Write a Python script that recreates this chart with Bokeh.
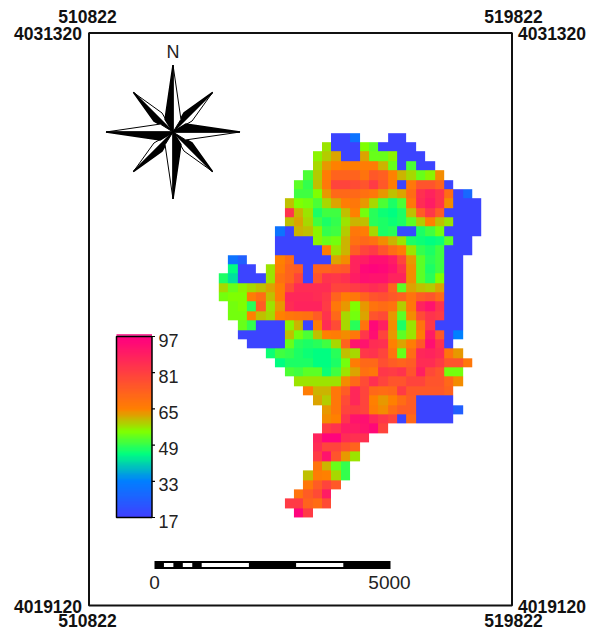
import math
import numpy as np
from bokeh.core.properties import value
from bokeh.embed import file_html
from bokeh.models import LinearColorMapper
from bokeh.plotting import figure
from bokeh.resources import INLINE

X_MIN, X_MAX = 510822, 519822
Y_MIN, Y_MAX = 4019120, 4031320
CELL = 199.4

row_start = [12, 11, 10, 10, 9, 8, 8, 7, 7, 7, 6, 6, 6, 1, 1, 0, 0, 0, 1, 1, 2, 2, 3, 5, 6, 7, 8, 9, 10, 11, 11,
             11, 10, 10, 10, 10, 9, 9, 8, 7, 8]
row_values = [
    [18, 18, 30, 0, 0, 0, 18, 18],
    [57, 18, 18, 18, 55, 52, 18, 18, 18, 18],
    [56, 59, 62, 18, 18, 62, 53, 53, 56, 18, 18, 18],
    [58, 63, 65, 66, 66, 66, 66, 61, 53, 18, 51, 18, 18],
    [51, 59, 66, 72, 72, 72, 68, 75, 73, 65, 61, 58, 53, 56, 64],
    [52, 49, 60, 67, 80, 80, 78, 76, 82, 75, 66, 18, 67, 76, 76, 72, 18],
    [50, 50, 55, 63, 71, 71, 71, 69, 67, 63, 60, 62, 70, 85, 88, 84, 70, 18, 27],
    [60, 55, 54, 51, 58, 62, 66, 67, 63, 58, 51, 47, 51, 67, 86, 90, 84, 64, 18, 18, 18],
    [84, 61, 57, 47, 50, 50, 60, 65, 54, 48, 46, 45, 47, 60, 74, 83, 74, 18, 18, 18, 18],
    [60, 62, 58, 50, 47, 49, 57, 61, 60, 48, 47, 46, 47, 52, 59, 65, 60, 57, 18, 18, 18],
    [30, 18, 61, 60, 56, 49, 50, 59, 67, 66, 58, 47, 48, 20, 20, 47, 50, 54, 18, 18, 18, 18],
    [18, 18, 18, 18, 56, 53, 54, 61, 69, 71, 69, 64, 61, 57, 47, 46, 45, 46, 52, 18, 18],
    [18, 18, 18, 18, 18, 66, 57, 61, 74, 80, 82, 76, 70, 66, 57, 49, 47, 50, 18, 18, 18],
    [30, 25, 0, 0, 0, 65, 70, 18, 18, 18, 18, 62, 64, 88, 90, 93, 93, 90, 80, 63, 52, 48, 50, 18, 18],
    [45, 18, 18, 0, 57, 66, 72, 74, 18, 72, 72, 74, 75, 88, 95, 96, 95, 92, 85, 64, 52, 47, 50, 18, 18],
    [47, 42, 18, 18, 18, 57, 69, 72, 80, 18, 76, 84, 83, 85, 90, 93, 92, 92, 88, 88, 64, 52, 48, 55, 18, 18],
    [58, 53, 56, 58, 60, 62, 66, 78, 86, 86, 86, 86, 80, 80, 82, 84, 86, 84, 72, 52, 62, 60, 59, 62, 18, 18],
    [54, 55, 55, 66, 70, 60, 66, 87, 87, 87, 86, 83, 72, 66, 67, 72, 76, 77, 75, 73, 68, 74, 76, 71, 18, 18],
    [54, 55, 48, 74, 57, 63, 86, 88, 88, 88, 82, 67, 63, 55, 63, 68, 70, 68, 59, 67, 88, 92, 84, 18, 18],
    [54, 54, 65, 60, 58, 65, 67, 68, 69, 74, 84, 71, 58, 54, 62, 76, 78, 63, 52, 64, 78, 84, 82, 18, 18],
    [53, 49, 18, 18, 18, 56, 61, 18, 66, 86, 78, 58, 48, 68, 95, 89, 64, 47, 57, 68, 83, 18, 18, 18],
    [18, 18, 18, 18, 18, 60, 54, 51, 60, 65, 66, 64, 67, 83, 93, 80, 63, 52, 57, 66, 90, 75, 18, 33],
    [18, 18, 18, 18, 53, 48, 47, 48, 50, 58, 72, 92, 92, 86, 85, 65, 62, 66, 75, 93, 84, 18],
    [46, 50, 49, 47, 46, 45, 45, 48, 60, 58, 83, 84, 80, 68, 53, 70, 87, 88, 86, 68, 63],
    [45, 47, 47, 47, 45, 45, 47, 54, 66, 71, 71, 77, 74, 72, 74, 86, 86, 82, 76, 76, 67],
    [51, 50, 52, 52, 46, 50, 57, 62, 69, 67, 83, 82, 84, 76, 89, 79, 76, 54, 54],
    [57, 57, 57, 57, 57, 64, 71, 78, 85, 80, 76, 76, 80, 80, 76, 76, 71, 64],
    [66, 61, 61, 67, 74, 87, 80, 71, 70, 71, 82, 75, 75, 75, 75, 72],
    [62, 59, 67, 78, 87, 80, 65, 63, 65, 70, 74, 18, 18, 18, 18],
    [63, 67, 80, 82, 80, 66, 64, 70, 74, 74, 18, 18, 18, 18, 25],
    [64, 65, 84, 92, 93, 87, 83, 80, 18, 71, 18, 18, 18, 18],
    [82, 84, 90, 90, 92, 95, 80],
    [88, 96, 96, 86, 85, 85],
    [86, 80, 80, 76, 72],
    [82, 92, 76, 63, 57],
    [68, 61, 53, 49],
    [60, 66, 65, 58, 49],
    [67, 74, 80, 75],
    [68, 74, 78, 90],
    [82, 82, 72, 70, 78],
    [96, 82],
]
legend_ticks = [97, 81, 65, 49, 33, 17]
scale_white = [(200, 400), (600, 800), (1000, 2000), (3000, 4000)]
coord_top = "510822"
coord_right = "519822"
coord_upper = "4031320"
coord_lower = "4019120"

# Colour ramp of the map (value, rgb)
stops = [(17, (64, 64, 255)), (33, (0, 128, 255)), (45, (0, 255, 128)),
         (55, (128, 255, 0)), (65, (255, 128, 0)), (97, (255, 0, 128))]
vs = np.linspace(17, 97, 256)
palette = []
for v in vs:
    rgb = [int(round(np.interp(v, [s[0] for s in stops], [s[1][i] for s in stops]))) for i in range(3)]
    palette.append("#%02x%02x%02x" % tuple(rgb))
mapper = LinearColorMapper(palette=palette, low=17, high=97, nan_color=(0, 0, 0, 0))

W, H = 596, 630
FL, FT, FB = 88.5, 32.5, 605.0       # frame pixels
SX = 47.0 / 1000                     # px per metre, x
SY = (FB - FT) / (Y_MAX - Y_MIN)     # px per metre, y
x_start = X_MIN - FL / SX
x_end = x_start + W / SX
y_end = Y_MAX + FT / SY
y_start = y_end - H / SY


def dx(px):
    return x_start + px / SX


def dy(py):
    return y_end - py / SY


p = figure(width=W, height=H, x_range=(x_start, x_end), y_range=(y_start, y_end),
           output_backend="svg", toolbar_location=None, min_border=0,
           x_axis_location=None, y_axis_location=None, outline_line_color=None,
           background_fill_color="white", border_fill_color="white")
p.grid.visible = False

# Raster
n_rows, n_cols = len(row_values), 28
grid = np.full((n_rows, n_cols), np.nan)
for r, (start, row) in enumerate(zip(row_start, row_values)):
    for c, val in enumerate(row):
        if val:
            grid[r, start + c] = val
gx0, gy0 = dx(218.3), dy(132.7)
cell_h = CELL * SX / SY
p.image(image=[grid[::-1]], x=gx0, y=gy0 - n_rows * cell_h, dw=n_cols * CELL, dh=n_rows * cell_h,
        color_mapper=mapper)

# Frame
p.quad(left=[X_MIN], right=[X_MAX], bottom=[Y_MIN], top=[Y_MAX], fill_color=None,
       line_color="#111111", line_width=2)

# Colour legend
leg_top, leg_bottom = 336.0, 517.0


def leg_y(v):
    return dy(leg_top + (97 - v) * (leg_bottom - leg_top) / 80)


lv = np.arange(17, 97.5, 0.5)
p.image(image=[lv.reshape(-1, 1)], x=dx(116), y=leg_y(17), dw=dx(151.5) - dx(116), dh=leg_y(97) - leg_y(17),
        color_mapper=mapper)
p.line([dx(116), dx(151.5)], [dy(334.6)] * 2, line_color="#ff0080", line_width=1.5)
p.quad(left=[dx(116)], right=[dx(151.5)], bottom=[leg_y(17)], top=[leg_y(97)], fill_color=None,
       line_color="black", line_width=1.5)
p.segment(x0=dx(151.5), x1=dx(154.5), y0=[leg_y(v) for v in legend_ticks],
          y1=[leg_y(v) for v in legend_ticks], line_color="black", line_width=1.2)
p.text(x=[dx(158)] * len(legend_ticks), y=[dy(leg_top + (97 - v) * (leg_bottom - leg_top) / 80 + 3.5) for v in legend_ticks],
       text=[str(v) for v in legend_ticks], text_font=value("Liberation Sans"), text_font_size="18px",
       text_baseline="middle", text_align="left", text_color="#222222")

# Coordinates
bold = dict(text_font=value("Liberation Sans"), text_font_style="bold", text_font_size="17.5px",
            text_baseline="middle", text_align="center", text_color="#111111")
p.text(x=[dx(87), dx(513), dx(87), dx(513)],
       y=[dy(15.5), dy(15.5), dy(620), dy(620)],
       text=[coord_top, coord_right, coord_top, coord_right], **bold)
p.text(x=[dx(47.5), dx(551.5), dx(47.5), dx(551.5)],
       y=[dy(33), dy(33), dy(606), dy(606)],
       text=[coord_upper, coord_upper, coord_lower, coord_lower], **bold)

# Compass
cx, cy = 172.5, 131.5


def kite(angle, tip, side_angle, side_r):
    """half point: centre, tip, shoulder; angle is clockwise from north."""
    a = math.radians(angle)
    b = math.radians(angle + side_angle)
    return ([dx(cx), dx(cx + tip * math.sin(a)), dx(cx + side_r * math.sin(b))],
            [dy(cy), dy(cy - tip * math.cos(a)), dy(cy - side_r * math.cos(b))])


for ang, tip, sa, sr in [(a, 56, 15, 22) for a in (45, 135, 225, 315)] + [(a, 67, 32, 15) for a in (0, 90, 180, 270)]:
    xk, yk = kite(ang, tip, sa, sr)
    p.patch(xk, yk, fill_color="white", line_color="black", line_width=1)
    xk, yk = kite(ang, tip, -sa, sr)
    p.patch(xk, yk, fill_color="black", line_color="black", line_width=1.5)
p.text(x=[dx(172.5)], y=[dy(51.5)], text=["N"], text_font=value("Liberation Sans"), text_font_size="18px",
       text_baseline="middle", text_align="center", text_color="#222222")

# Scale bar
bar_x0 = dx(154)
bar_m = 47.2 / 1000 / SX
p.quad(left=[bar_x0], right=[bar_x0 + 5000 * bar_m], bottom=[dy(568.5)], top=[dy(560.5)],
       fill_color="black", line_color=None)
p.quad(left=[bar_x0 + a * bar_m for a, b in scale_white], right=[bar_x0 + b * bar_m for a, b in scale_white],
       bottom=dy(566.6), top=dy(562.6), fill_color="white", line_color=None)
p.text(x=[bar_x0, bar_x0 + 5000 * bar_m - 1 / SX], y=[dy(582)] * 2, text=["0", "5000"],
       text_font=value("Liberation Sans"), text_font_size="19px", text_baseline="middle",
       text_align="center", text_color="#222222")

open("out.html", "w").write(file_html(p, INLINE))
